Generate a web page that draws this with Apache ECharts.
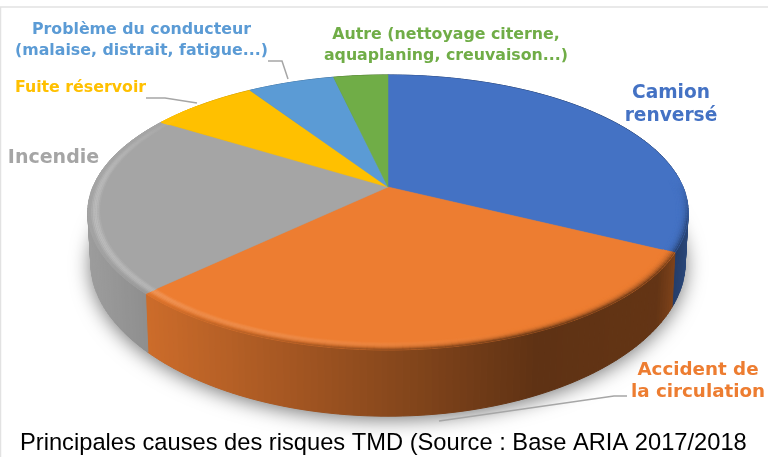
<!DOCTYPE html>
<html><head><meta charset="utf-8">
<style>html,body{margin:0;padding:0;background:#fff}#c{width:768px;height:457px}</style>
<script src="https://cdn.jsdelivr.net/npm/echarts@6/dist/echarts.min.js"></script>
</head><body><div id="c"></div>
<script>
const categories = ['Camion renversé','Accident de la circulation','Incendie','Fuite réservoir','Problème du conducteur','Autre'];
const values = [32.5, 30.2, 21.3, 6.9, 5.6, 3.5];
const colors = ['#4472C4','#ED7D31','#A5A5A5','#FFC000','#5B9BD5','#70AD47'];
const labelLines = [
  ['Camion','renversé'],
  ['Accident de','la circulation'],
  ['Incendie'],
  ['Fuite réservoir'],
  ['Problème du conducteur','(malaise, distrait, fatigue...)'],
  ['Autre (nettoyage citerne,','aquaplaning, creuvaison...)']
];
const caption = 'Principales causes des risques TMD (Source : Base ARIA 2017/2018';

// layout
const G = {cx:388, cy:187, a:295, b:132.8, k:0.185, h:54, squeeze:0.1, shrink:0.99, halfW:300, bevel:0.04};
const labelPos = [
  {x:671,y:105,size:18.6,lh:23},{x:698,y:381,size:18.3,lh:22},{x:53.5,y:158,size:19,lh:20},
  {x:80.5,y:88,size:15.8,lh:18},{x:141.5,y:40,size:15.8,lh:21},{x:446,y:45.5,size:15.8,lh:21}
];
const leaders = [null,[[627,396],[614,396],[439,421]],null,[[146,98],[165,98],[197,103]],[[268,61],[282,61],[288,79]],null];
const shadeX = [-1,-0.8,0,0.5,0.9,1];
const shadeD = [0.95,0.86,0.58,0.40,0.42,0.62];

const total = values.reduce((s,v)=>s+v,0);
const starts = values.map((v,i)=>values.slice(0,i).reduce((s,x)=>s+x,0));
const rgb = c => [1,3,5].map(i=>parseInt(c.substr(i,2),16));
const css = c => 'rgb('+c.map(x=>Math.round(Math.min(255,Math.max(0,x)))).join(',')+')';
const mix = (p,q,t) => p.map((x,i)=>x+(q[i]-x)*t);
function shade(x){
  const n=(x-G.cx)/G.halfW;
  for(let i=1;i<shadeX.length;i++){ if(n<=shadeX[i]){const f=(n-shadeX[i-1])/(shadeX[i]-shadeX[i-1]);return shadeD[i-1]+(shadeD[i]-shadeD[i-1])*Math.max(0,f);} }
  return shadeD[shadeD.length-1];
}
function proj(th,r){
  const u=r*Math.sin(th), v=-r*Math.cos(th), w=1-G.k*v;
  return {x:G.cx+G.a*u/w, y:G.cy+G.b*v/w, u, v, w};
}
function low(th){
  const p=proj(th,1);
  return [G.cx+(p.x-G.cx)*G.shrink, p.y+G.h/p.w*(1-G.squeeze*p.u*p.u)];
}
const ang = s => s/total*2*Math.PI;
const steps = (t0,t1)=>Math.max(2,Math.ceil((t1-t0)/0.02));

function renderShadow(params,api){
  const pts=[];
  for(let i=0;i<=240;i++) pts.push(low(i/240*2*Math.PI));
  return {type:'polygon',shape:{points:pts},style:{fill:'#999',shadowBlur:20,shadowColor:'rgba(0,0,0,0.55)',shadowOffsetY:3}};
}
function renderWall(params,api){
  const s=api.value(1), val=api.value(2), base=rgb(colors[params.dataIndex]);
  const t0=ang(s), t1=ang(s+val), n=steps(t0,t1), ch=[];
  for(let i=0;i<n;i++){
    const a0=t0+(t1-t0)*i/n, a1=t0+(t1-t0)*(i+1)/n, p0=proj(a0,1), p1=proj(a1,1), l0=low(a0), l1=low(a1);
    const col=css(base.map(x=>x*shade((p0.x+p1.x)/2)));
    ch.push({type:'polygon',shape:{points:[[p0.x,p0.y],[p1.x,p1.y],l1,l0]},style:{fill:col,stroke:col,lineWidth:1}});
  }
  return {type:'group',children:ch};
}
function renderTop(params,api){
  const s=api.value(1), val=api.value(2), base=rgb(colors[params.dataIndex]);
  const t0=ang(s), t1=ang(s+val), n=steps(t0,t1), ch=[], pts=[[G.cx,G.cy]];
  for(let i=0;i<=n;i++){const p=proj(t0+(t1-t0)*i/n,1); pts.push([p.x,p.y]);}
  ch.push({type:'polygon',shape:{points:pts},style:{fill:colors[params.dataIndex],stroke:colors[params.dataIndex],lineWidth:0.5}});
  const L=8;
  for(let l=0;l<L;l++){
    const t=(l+0.5)/L, rm=1-G.bevel*(1-t);
    for(let i=0;i<n;i++){
      const a0=t0+(t1-t0)*i/n, a1=t0+(t1-t0)*(i+1)/n;
      const p0=proj(a0,rm), p1=proj(a1,rm), mx=(p0.x+p1.x)/2;
      const fade=Math.max(0,Math.min(1,(p0.v+0.05)/0.3));
      const leftFade=Math.max(0,Math.min(1,(200-mx)/110));
      const f2=Math.max(fade,leftFade);
      if(f2<=0) continue;
      const wall=base.map(x=>x*shade(mx));
      const hl=(Math.max(0,Math.min(1,(520-mx)/260))*0.12+leftFade*0.14)*Math.sin(Math.PI*Math.min(1,t*1.3));
      let c=mix(base,wall,Math.pow(t,3)*fade*(1-0.7*leftFade));
      c=mix(c,[255,255,255],hl*f2);
      ch.push({type:'polyline',shape:{points:[[p0.x,p0.y],[p1.x,p1.y]]},style:{stroke:css(c),lineWidth:1.5,fill:null,lineCap:'round'}});
    }
  }
  return {type:'group',children:ch};
}
function renderLabel(params,api){
  const i=params.dataIndex, p=labelPos[i], ch=[];
  ch.push({type:'text',style:{text:labelLines[i].join('\n'),x:p.x,y:p.y,align:'center',verticalAlign:'middle',
    font:'bold '+p.size+'px "DejaVu Sans"',lineHeight:p.lh,fill:colors[i]}});
  if(leaders[i]) ch.push({type:'polyline',shape:{points:leaders[i]},style:{stroke:'#a6a6a6',lineWidth:1.5,fill:null}});
  return {type:'group',children:ch};
}
const rows = values.map((v,i)=>({name:categories[i],value:[i,starts[i],v]}));
const chart = echarts.init(document.getElementById('c'),null,{renderer:'canvas'});
chart.setOption({
  animation:false,
  backgroundColor:'#fff',
  title:{text:caption,left:20,top:431,padding:0,textStyle:{fontFamily:'Liberation Sans',fontWeight:'normal',fontSize:23.7,color:'#000'}},
  graphic:[
    {type:'line',shape:{x1:0,y1:7,x2:768,y2:7},style:{stroke:'#e2e2e2',lineWidth:1.5}},
    {type:'line',shape:{x1:0.5,y1:7,x2:0.5,y2:457},style:{stroke:'#e2e2e2',lineWidth:1.5}}
  ],
  series:[
    {type:'custom',coordinateSystem:'none',z:1,silent:true,data:[[0,0,0]],renderItem:renderShadow},
    {type:'custom',coordinateSystem:'none',z:2,silent:true,data:rows,renderItem:renderWall},
    {type:'custom',coordinateSystem:'none',z:3,silent:true,data:rows,renderItem:renderTop},
    {type:'custom',coordinateSystem:'none',z:4,silent:true,data:rows,renderItem:renderLabel}
  ]
});
</script></body></html>
